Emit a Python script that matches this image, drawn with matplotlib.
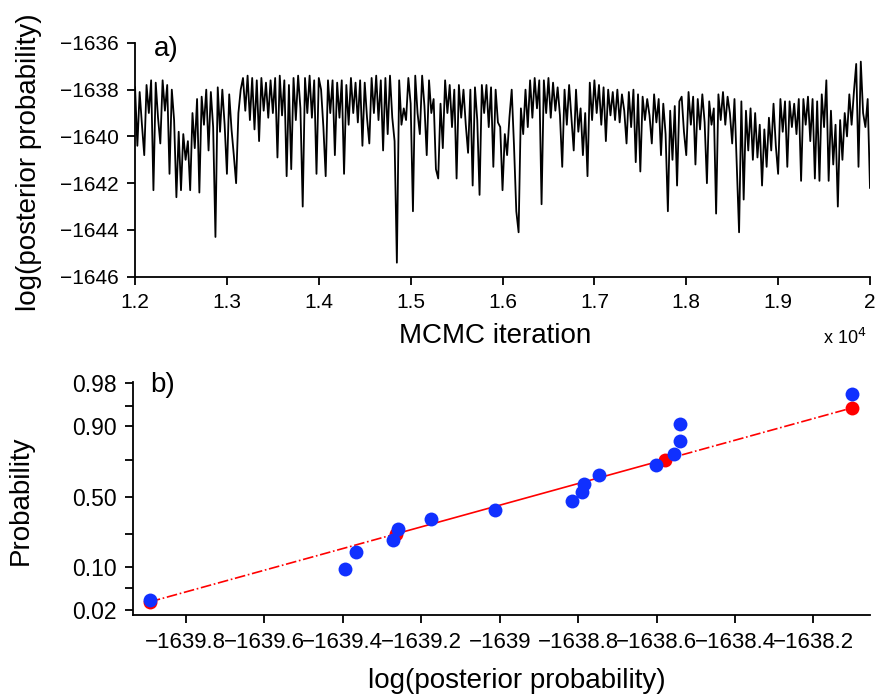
import numpy as np
import matplotlib
matplotlib.use('Agg')
import matplotlib.pyplot as plt
from statistics import NormalDist

plt.rcParams['font.family'] = ['Liberation Sans', 'DejaVu Sans']

# MCMC trace, every 25 iterations from 12000 to 20000
iter_start = 12000
iter_step = 25
trace = [
    -1637.9, -1640.4, -1638.1, -1639.5, -1640.8, -1637.8, -1639.0, -1637.6, -1642.3, -1637.7,
    -1639.2, -1640.3, -1637.6, -1638.9, -1637.8, -1641.6, -1638.0, -1639.3, -1642.6, -1639.8,
    -1642.3, -1639.9, -1641.0, -1640.2, -1642.3, -1639.0, -1640.5, -1638.4, -1642.4, -1638.3,
    -1639.5, -1638.0, -1640.6, -1638.1, -1639.6, -1644.3, -1637.9, -1639.8, -1638.0, -1639.5,
    -1641.6, -1638.2, -1639.7, -1640.8, -1642.0, -1639.0, -1638.0, -1637.5, -1638.9, -1637.4,
    -1639.3, -1637.5, -1639.7, -1637.6, -1640.2, -1637.5, -1638.9, -1637.7, -1639.2, -1637.6,
    -1639.0, -1637.5, -1640.9, -1637.4, -1639.1, -1637.6, -1641.7, -1637.8, -1641.4, -1637.5,
    -1639.3, -1637.4, -1638.8, -1643.0, -1637.5, -1639.0, -1637.4, -1639.2, -1637.6, -1641.6,
    -1637.5, -1638.0, -1639.6, -1641.7, -1637.6, -1639.0, -1637.6, -1640.8, -1637.7, -1639.2,
    -1637.6, -1641.6, -1637.8, -1639.5, -1637.5, -1639.0, -1637.7, -1639.4, -1637.6, -1640.4,
    -1637.7, -1639.2, -1640.3, -1637.5, -1639.0, -1637.4, -1639.3, -1637.6, -1640.6, -1637.5,
    -1639.9, -1637.4, -1639.2, -1640.2, -1645.4, -1637.6, -1639.5, -1638.8, -1639.3, -1637.5,
    -1638.6, -1643.2, -1637.4, -1639.0, -1639.9, -1637.4, -1638.7, -1640.8, -1637.6, -1639.0,
    -1638.4, -1641.4, -1641.8, -1638.6, -1640.5, -1637.6, -1639.0, -1637.8, -1639.6, -1638.0,
    -1641.8, -1637.8, -1639.2, -1638.0, -1639.5, -1640.7, -1638.0, -1642.1, -1637.9, -1639.3,
    -1642.5, -1637.8, -1639.0, -1637.8, -1639.6, -1637.9, -1641.3, -1638.0, -1639.4, -1639.6,
    -1642.3, -1639.9, -1640.8, -1639.2, -1638.0, -1640.4, -1643.2, -1644.1, -1638.8, -1639.9,
    -1638.0, -1639.6, -1637.6, -1639.2, -1637.5, -1638.8, -1637.6, -1642.9, -1637.6, -1639.0,
    -1637.5, -1639.2, -1637.7, -1638.9, -1637.9, -1639.1, -1641.3, -1638.0, -1639.5, -1637.8,
    -1639.2, -1640.6, -1638.0, -1639.8, -1638.8, -1640.8, -1639.0, -1641.7, -1637.7, -1639.3,
    -1637.6, -1639.0, -1637.8, -1639.5, -1637.9, -1640.2, -1638.0, -1639.1, -1638.1, -1639.3,
    -1638.0, -1639.4, -1638.2, -1638.9, -1640.3, -1638.1, -1639.6, -1638.0, -1641.1, -1638.2,
    -1641.5, -1638.3, -1639.3, -1638.4, -1639.1, -1640.3, -1638.2, -1639.4, -1638.4, -1640.8,
    -1638.6, -1639.9, -1643.2, -1638.9, -1641.0, -1638.7, -1642.1, -1638.5, -1638.3, -1639.8,
    -1640.8, -1638.1, -1639.5, -1638.3, -1641.2, -1638.4, -1639.7, -1638.2, -1639.4, -1642.0,
    -1638.5, -1639.5, -1638.8, -1643.3, -1638.2, -1639.3, -1638.1, -1639.5, -1638.3, -1639.0,
    -1640.3, -1638.4, -1641.3, -1644.1, -1638.5, -1642.7, -1638.9, -1640.6, -1638.8, -1641.0,
    -1639.0, -1640.9, -1639.5, -1642.1, -1639.7, -1641.3, -1639.2, -1640.6, -1638.6, -1640.4,
    -1641.6, -1638.4, -1639.8, -1638.5, -1641.3, -1638.5, -1639.6, -1638.6, -1639.9, -1638.4,
    -1641.9, -1638.4, -1639.5, -1638.3, -1640.2, -1638.4, -1641.8, -1638.5, -1641.9, -1638.2,
    -1639.6, -1637.6, -1641.9, -1638.9, -1641.2, -1639.5, -1643.0, -1639.3, -1641.0, -1639.0,
    -1640.0, -1638.2, -1639.5, -1638.1, -1636.9, -1641.3, -1636.8, -1639.0, -1639.6, -1638.4,
    -1642.2,
]
iterations = iter_start + iter_step * np.arange(len(trace))

# log posterior values of the chains (normal probability plot)
lp_samples = [
    -1639.892, -1639.394, -1639.367, -1639.271, -1639.260, -1639.175, -1639.012, -1638.816,
    -1638.791, -1638.784, -1638.748, -1638.602, -1638.555, -1638.540, -1638.540, -1638.101,
]

top_yticks = [-1646, -1644, -1642, -1640, -1638, -1636]
top_xticks = [12000, 13000, 14000, 15000, 16000, 17000, 18000, 19000, 20000]
bot_xticks = [-1639.8, -1639.6, -1639.4, -1639.2, -1639.0, -1638.8, -1638.6, -1638.4, -1638.2]
prob_ticks = [0.02, 0.05, 0.10, 0.25, 0.50, 0.75, 0.90, 0.95, 0.98]
prob_labels = ['0.02', '', '0.10', '', '0.50', '', '0.90', '', '0.98']

nd = NormalDist()


def minus(s):
    return s.replace('-', '\u2212')


fig = plt.figure(figsize=(8.77, 7), dpi=100)

# ---- a) trace
ax1 = fig.add_axes([0.154, 0.6047, 0.838, 0.334])
ax1.plot(iterations, trace, color='black', linewidth=1.3)
ax1.set_xlim(12000, 20000)
ax1.set_ylim(-1646, -1636)
ax1.set_yticks(top_yticks)
ax1.set_yticklabels([minus(str(v)) for v in top_yticks])
ax1.set_xticks(top_xticks)
ax1.set_xticklabels(['{:g}'.format(v / 1e4) for v in top_xticks])
ax1.set_xlabel('MCMC iteration', fontsize=20)
ax1.set_ylabel('log(posterior probability)', fontsize=20)
ax1.xaxis.set_label_coords(0.49, -0.197)
ax1.yaxis.set_label_coords(-0.127, 0.49)
ax1.text(0.025, 0.975, 'a)', transform=ax1.transAxes, fontsize=20, va='center')
fig.text(0.963, 0.517, 'x 10$^4$', fontsize=13, ha='center', va='center')

# ---- b) normal probability plot
x_sorted = np.sort(lp_samples)
n = len(x_sorted)
p_pos = (np.arange(1, n + 1) - 0.5) / n
z_pos = np.array([nd.inv_cdf(p) for p in p_pos])

q1 = np.interp(0.25, p_pos, x_sorted)
q3 = np.interp(0.75, p_pos, x_sorted)
z1, z3 = nd.inv_cdf(0.25), nd.inv_cdf(0.75)
slope = (z3 - z1) / (q3 - q1)
x_lo, x_hi = x_sorted[0], x_sorted[-1]
z_lo = z1 + slope * (x_lo - q1)
z_hi = z1 + slope * (x_hi - q1)

ax2 = fig.add_axes([0.152, 0.1214, 0.840, 0.3333])
ax2.plot([q1, q3], [z1, z3], color='red', linewidth=1.2)
ax2.plot([x_lo, q1], [z_lo, z1], color='red', linewidth=1.2, linestyle='-.')
ax2.plot([q3, x_hi], [z3, z_hi], color='red', linewidth=1.2, linestyle='-.')
ax2.plot([x_lo, q1, q3, x_hi], [z_lo, z1, z3, z_hi], 'o', color='red', markersize=10,
         markeredgewidth=0)
ax2.plot(x_sorted, z_pos, 'o', color='#1030ff', markersize=10, markeredgewidth=0)

ax2.set_xlim(-1639.934, -1638.056)
ax2.set_ylim(-2.143, 2.085)
ax2.set_xticks(bot_xticks)
ax2.set_xticklabels([minus('{:g}'.format(v)) for v in bot_xticks])
ax2.set_yticks([nd.inv_cdf(p) for p in prob_ticks])
ax2.set_yticklabels(prob_labels)
ax2.set_xlabel('log(posterior probability)', fontsize=20)
ax2.set_ylabel('Probability', fontsize=20)
ax2.xaxis.set_label_coords(0.521, -0.228)
ax2.yaxis.set_label_coords(-0.135, 0.49)
ax2.text(0.023, 0.986, 'b)', transform=ax2.transAxes, fontsize=20, va='center')

for ax in (ax1, ax2):
    ax.spines['top'].set_visible(False)
    ax.spines['right'].set_visible(False)
    for s in ('left', 'bottom'):
        ax.spines[s].set_linewidth(1.3)
    ax.tick_params(direction='out', length=6, width=1.3, pad=6, labelsize=15)
ax2.tick_params(axis='x', labelsize=16)
ax2.tick_params(axis='y', labelsize=16.5)

fig.savefig('out.png', dpi=100)
